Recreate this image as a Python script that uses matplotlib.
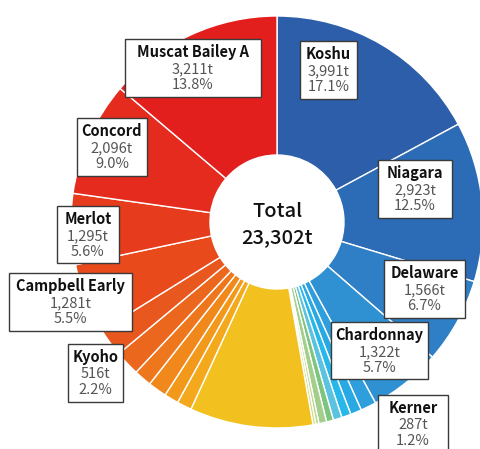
import numpy as np
import matplotlib.pyplot as plt
from matplotlib.patches import Rectangle

W, H = 481, 449

# wine grape volumes, slices clockwise from 12 o'clock
varieties = ["Koshu", "Niagara", "Delaware", "Chardonnay", "Kerner",
             "", "", "", "", "", "", "",
             "",
             "", "", "", "", "",
             "Kyoho", "Campbell Early", "Merlot", "Concord", "Muscat Bailey A"]
tonnes = [3991, 2923, 1566, 1322, 287,
          203, 170, 160, 127, 141, 57, 52,
          2251,
          269, 262, 342, 323, 457,
          516, 1281, 1295, 2096, 3211]

colors = ["#2d5ea9", "#2c6bb5", "#2e7fc5", "#3091d2", "#2e9edd",
          "#29a9e4", "#26b8ea", "#5bc2e0", "#7dc47e", "#a3ce8c", "#b9d88a", "#d3de7c",
          "#f2c11f",
          "#f4a81b", "#f2981b", "#f0881c", "#ee771e", "#ec671e",
          "#e8571e", "#e84a1c", "#e63b1c", "#e42b1d", "#e31f1e"]

# label boxes (left, top, right, bottom) in pixels from top-left
boxes = {
    "Muscat Bailey A": (125, 39, 261, 97),
    "Koshu": (300, 41, 357, 99),
    "Concord": (77, 118, 147, 176),
    "Niagara": (378, 160, 452, 218),
    "Merlot": (57, 206, 119, 263),
    "Delaware": (384, 260, 465, 318),
    "Campbell Early": (9, 273, 132, 331),
    "Chardonnay": (331, 322, 428, 379),
    "Kyoho": (68, 344, 123, 402),
    "Kerner": (378, 395, 448, 455),
}

total = sum(tonnes)
cx, cy = 277, 222
r_out, r_in = 206, 67

plt.rcParams['font.family'] = ['Noto Sans CJK JP', 'DejaVu Sans']

fig = plt.figure(figsize=(W / 100, H / 100), dpi=100)
ax = fig.add_axes([0, 0, 1, 1])

ax.pie(tonnes, colors=colors, startangle=90, counterclock=False,
       center=(cx, H - cy), radius=r_out, frame=True,
       wedgeprops=dict(width=r_out - r_in, edgecolor='white', linewidth=1.0))
ax.set_xlim(0, W)
ax.set_ylim(0, H)
ax.set_aspect('equal')
ax.axis('off')

ax.text(cx, H - 212, "Total", ha='center', va='center', fontsize=14.5,
        fontweight='medium', color='#111111')
ax.text(cx, H - 238, f"{total:,}t", ha='center', va='center', fontsize=14.5,
        fontweight='medium', color='#111111')

for name, v in zip(varieties, tonnes):
    if not name:
        continue
    x0, y0, x1, y1 = boxes[name]
    ax.add_patch(Rectangle((x0, H - y1), x1 - x0, y1 - y0, facecolor='white',
                           edgecolor='#3a3a3a', linewidth=1.0, zorder=5))
    xm = (x0 + x1) / 2
    ax.text(xm, H - (y0 + 13), name, ha='center', va='center', fontsize=10.5,
            fontweight='bold', color='#111111', zorder=6)
    ax.text(xm, H - (y0 + 30), f"{v:,}t", ha='center', va='center', fontsize=10.5,
            color='#555555', zorder=6)
    ax.text(xm, H - (y0 + 46), f"{100 * v / total:.1f}%", ha='center', va='center',
            fontsize=10.5, color='#555555', zorder=6)

fig.savefig("out.png", dpi=100)
